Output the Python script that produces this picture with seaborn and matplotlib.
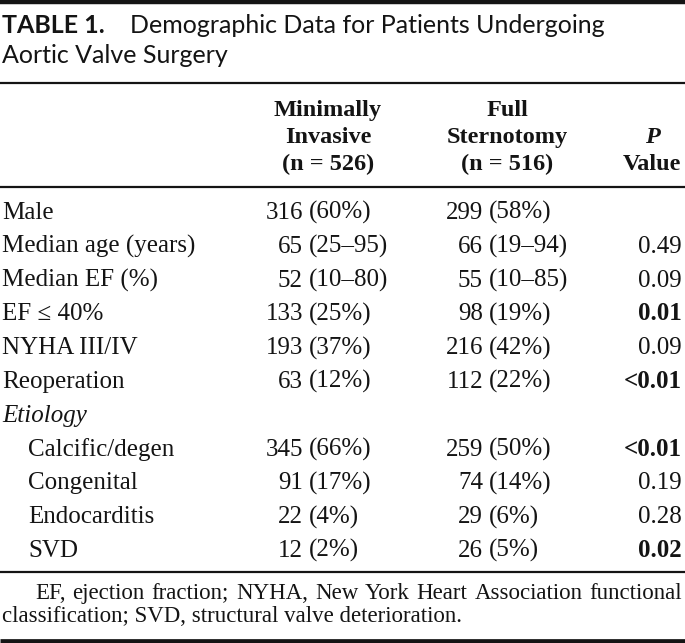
import matplotlib
matplotlib.use("Agg")
import matplotlib.pyplot as plt
import seaborn as sns

sns.set_theme(style="white")
plt.rcParams["font.family"] = ["Liberation Serif", "DejaVu Serif"]

# ---------------------------------------------------------------
# Table content
# ---------------------------------------------------------------
title_tag = "TABLE 1."
title_line1 = "Demographic Data for Patients Undergoing"
title_line2 = "Aortic Valve Surgery"

col_headers = [
    ["Minimally", "Invasive", "(n = 526)"],
    ["Full", "Sternotomy", "(n = 516)"],
    ["", "P", "Value"],
]

main_rows = ["Male", "Median age (years)", "Median EF (%)", "EF ≤ 40%",
             "NYHA III/IV", "Reoperation"]
group_label = "Etiology"
etiology_rows = ["Calcific/degen", "Congenital", "Endocarditis", "SVD"]

mi_count = [316, 65, 52, 133, 193, 63, None, 345, 91, 22, 12]
mi_detail = ["(60%)", "(25–95)", "(10–80)", "(25%)", "(37%)", "(12%)", None,
             "(66%)", "(17%)", "(4%)", "(2%)"]
fs_count = [299, 66, 55, 98, 216, 112, None, 259, 74, 29, 26]
fs_detail = ["(58%)", "(19–94)", "(10–85)", "(19%)", "(42%)", "(22%)", None,
             "(50%)", "(14%)", "(6%)", "(5%)"]
p_values = ["", "0.49", "0.09", "0.01", "0.09", "<0.01", "",
            "<0.01", "0.19", "0.28", "0.02"]

footnote_line1 = "EF, ejection fraction; NYHA, New York Heart Association functional"
footnote_line2 = "classification; SVD, structural valve deterioration."

# ---------------------------------------------------------------
# Layout (pixel units, y grows downward)
# ---------------------------------------------------------------
W, H = 685, 643
INK = "#141414"
SANS = ["Lato", "DejaVu Sans"]
TITLE = 18
BODY = 18
NOTE = 16.5
ROW0, ROW_STEP = 219, 33.8
NUM_RIGHT = [303, 483]
HEAD_X = [328, 507, 652]
HEAD_Y = [116, 143, 170]

fig = plt.figure(figsize=(W / 100, H / 100), dpi=100)
ax = fig.add_axes([0, 0, 1, 1])
ax.set_xlim(0, W)
ax.set_ylim(H, 0)
ax.axis("off")
renderer = fig.canvas.get_renderer()


def text_width(s, **kw):
    t = ax.text(0, 0, s, **kw)
    w = t.get_window_extent(renderer).width
    t.remove()
    return w


def justified(words_line, x0, x1, y, **kw):
    words = words_line.split()
    widths = [text_width(w, **kw) for w in words]
    gap = (x1 - x0 - sum(widths)) / (len(words) - 1)
    x = x0
    for w, wd in zip(words, widths):
        ax.text(x, y, w, va="baseline", ha="left", **kw)
        x += wd + gap


# rules
for y, lw in [(1.5, 3.2), (83, 1.6), (187, 1.6), (572, 1.6), (640.5, 3.4)]:
    ax.plot([0, W], [y, y], color=INK, lw=lw, solid_capstyle="butt")

# title
ax.text(2, 33, title_tag, family=SANS, fontsize=TITLE, fontweight="bold",
        color=INK, va="baseline")
ax.text(130, 33, title_line1, family=SANS, fontsize=TITLE, color=INK, va="baseline")
ax.text(2, 63, title_line2, family=SANS, fontsize=TITLE, color=INK, va="baseline")

# column headers
for ci, lines in enumerate(col_headers):
    for li, s in enumerate(lines):
        if not s:
            continue
        style = "italic" if s == "P" else "normal"
        ax.text(HEAD_X[ci], HEAD_Y[li], s, fontsize=17.5, fontweight="bold",
                fontstyle=style, color=INK, ha="center", va="baseline")

# body rows
labels = main_rows + [group_label] + etiology_rows
for i, lab in enumerate(labels):
    y = ROW0 + i * ROW_STEP
    if lab == group_label:
        ax.text(2, y, lab, fontsize=BODY, fontstyle="italic", color=INK, va="baseline")
    else:
        x = 28 if lab in etiology_rows else 2
        ax.text(x, y, lab, fontsize=BODY, color=INK, va="baseline")

    for xr, counts, details in [(NUM_RIGHT[0], mi_count, mi_detail),
                                (NUM_RIGHT[1], fs_count, fs_detail)]:
        if counts[i] is None:
            continue
        ax.text(xr, y, str(counts[i]), fontsize=BODY, color=INK,
                ha="right", va="baseline")
        ax.text(xr + 6, y, details[i], fontsize=BODY, color=INK,
                ha="left", va="baseline")

    p = p_values[i]
    if p:
        sig = p.startswith("<") or float(p) < 0.05
        ax.text(682, y, p, fontsize=BODY, color=INK, ha="right", va="baseline",
                fontweight="bold" if sig else "normal")

# footnote
justified(footnote_line1, 35, 682, 599, fontsize=NOTE, color=INK)
ax.text(2, 622, footnote_line2, fontsize=NOTE, color=INK, va="baseline")

fig.savefig("out.png", dpi=100, facecolor="white")
